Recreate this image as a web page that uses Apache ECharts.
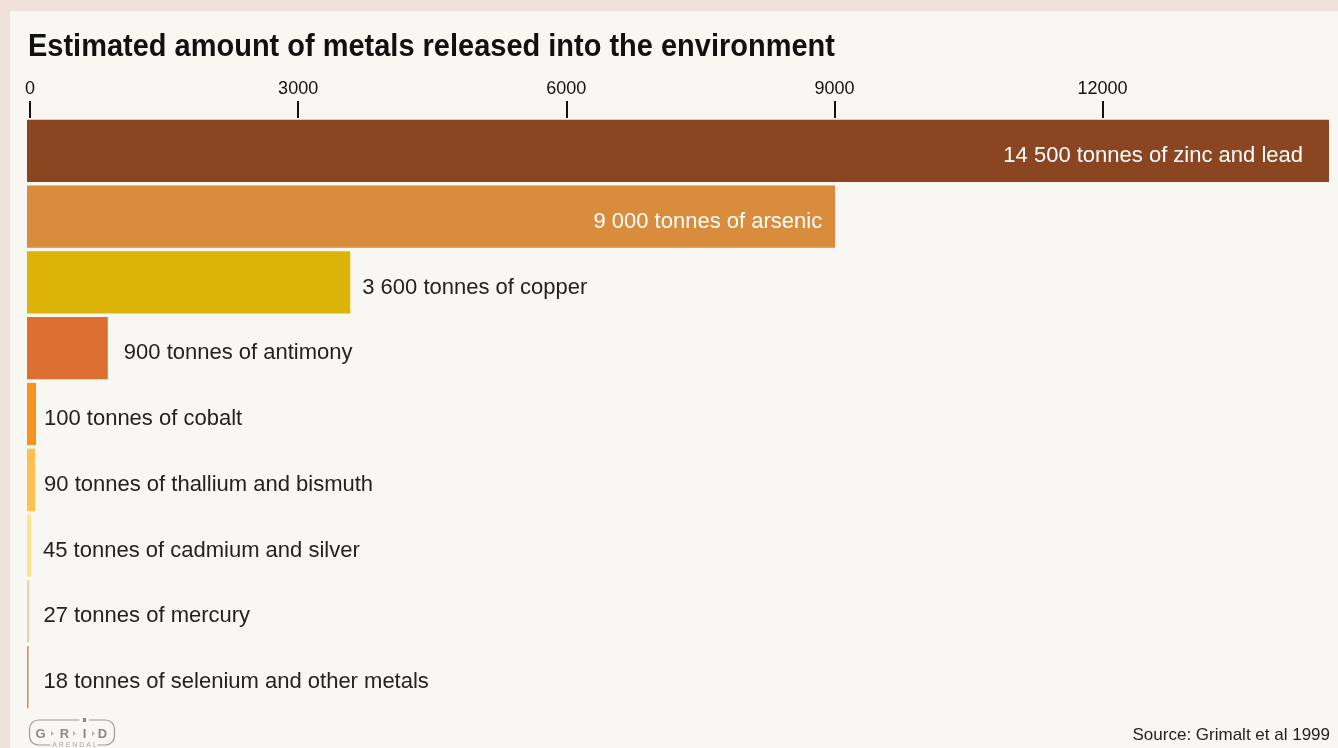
<!DOCTYPE html>
<html>
<head>
<meta charset="utf-8">
<script src="https://cdn.jsdelivr.net/npm/echarts@6/dist/echarts.min.js"></script>
<style>
  html, body { margin: 0; padding: 0; background: #efe0da; }
  #chart { width: 1338px; height: 748px; }
</style>
</head>
<body>
<div id="chart"></div>
<script>
// data
var metals = ['zinc and lead', 'arsenic', 'copper', 'antimony', 'cobalt',
  'thallium and bismuth', 'cadmium and silver', 'mercury', 'selenium and other metals'];
var tonnes = [14500, 9000, 3600, 900, 100, 90, 45, 27, 18];
var barLabels = ['14 500 tonnes of zinc and lead', '9 000 tonnes of arsenic', '3 600 tonnes of copper',
  '900 tonnes of antimony', '100 tonnes of cobalt', '90 tonnes of thallium and bismuth',
  '45 tonnes of cadmium and silver', '27 tonnes of mercury', '18 tonnes of selenium and other metals'];
var tickValues = [0, 3000, 6000, 9000, 12000];

var colors = ['#8b4621', '#d98c3c', '#dcb409', '#de6f32', '#f7941f', '#fdbf51', '#fde490', '#ded9b0', '#c39a6b'];
// label placement per bar (inside for the two long ones)
var labelPos = ['insideRight', 'insideRight', 'right', 'right', 'right', 'right', 'right', 'right', 'right'];
var labelDist = [26, 13, 12, 16, 8, 9, 12, 14, 15];

var FONT = '"Liberation Sans", Arial, sans-serif';

var chart = echarts.init(document.getElementById('chart'));

var data = tonnes.map(function (v, i) {
  return {
    value: v,
    itemStyle: { color: colors[i] },
    label: {
      show: true,
      position: labelPos[i],
      distance: labelDist[i],
      offset: [0, 5],
      color: i < 2 ? '#ffffff' : '#222222',
      formatter: barLabels[i]
    }
  };
});

// GRID-Arendal mark
var logo = [
  { type: 'rect', shape: { x: 0, y: 0, width: 85, height: 25, r: 9 }, style: { fill: 'none', stroke: '#9a9a9a', lineWidth: 1.2 } },
  { type: 'rect', shape: { x: 21, y: 22, width: 47, height: 6 }, style: { fill: '#f9f7f2' } },
  { type: 'rect', shape: { x: 50, y: -3, width: 10, height: 6 }, style: { fill: '#f9f7f2' } },
  { type: 'rect', shape: { x: 53.5, y: -2, width: 3, height: 4 }, style: { fill: '#8a8a8a' } },
  { type: 'text', x: 45, y: 25, style: { text: 'A R E N D A L', font: '7px ' + FONT, fill: '#a8a8a8', align: 'center', verticalAlign: 'middle' } }
];
[['G', 11], ['R', 35], ['I', 55], ['D', 73]].forEach(function (l) {
  logo.push({ type: 'text', x: l[1], y: 14, style: { text: l[0], font: 'bold 13px ' + FONT, fill: '#8a8a8a', align: 'center', verticalAlign: 'middle' } });
});
[23, 45, 64].forEach(function (x) {
  logo.push({ type: 'polygon', shape: { points: [[x - 1.5, 11], [x + 1.5, 13.5], [x - 1.5, 16]] }, style: { fill: '#b5b5b5' } });
});

chart.setOption({
  backgroundColor: '#efe0da',
  animation: false,
  graphic: [
    { type: 'rect', left: 10, top: 11, z: -10, shape: { width: 1328, height: 737 }, style: { fill: '#f9f7f2' } },
    {
      type: 'text', x: 28, y: 32, scaleX: 0.935,
      style: { text: 'Estimated amount of metals released into the environment', font: 'bold 31px ' + FONT, fill: '#111111' }
    },
    {
      type: 'text', right: 8, top: 727,
      style: { text: 'Source: Grimalt et al 1999', font: '17px ' + FONT, fill: '#222222' }
    },
    { type: 'group', left: 27, top: 717, children: logo }
  ],
  grid: [
    { left: 27, top: 118, width: 1302, height: 592 },
    { left: 30, top: 118, width: 1296, height: 592 }
  ],
  xAxis: [{
    type: 'value',
    gridIndex: 0,
    min: 0,
    max: 14500,
    show: false
  }, {
    type: 'value',
    gridIndex: 1,
    position: 'top',
    min: 0,
    max: 14500,
    interval: 3000,
    axisLine: { show: false },
    splitLine: { show: false },
    axisTick: { show: true, length: 17, customValues: tickValues, lineStyle: { color: '#111111', width: 2 } },
    axisLabel: {
      customValues: tickValues, margin: 20, fontSize: 18, fontFamily: FONT, color: '#111111',
      formatter: function (v) { return String(v); }
    }
  }],
  yAxis: [{
    type: 'category',
    gridIndex: 0,
    inverse: true,
    data: metals,
    show: false
  }, {
    type: 'category',
    gridIndex: 1,
    inverse: true,
    data: metals,
    show: false
  }],
  series: [{
    type: 'bar',
    xAxisIndex: 0,
    yAxisIndex: 0,
    data: data,
    barCategoryGap: '5.3%',
    label: { fontSize: 22, fontFamily: FONT }
  }]
});
</script>
</body>
</html>
